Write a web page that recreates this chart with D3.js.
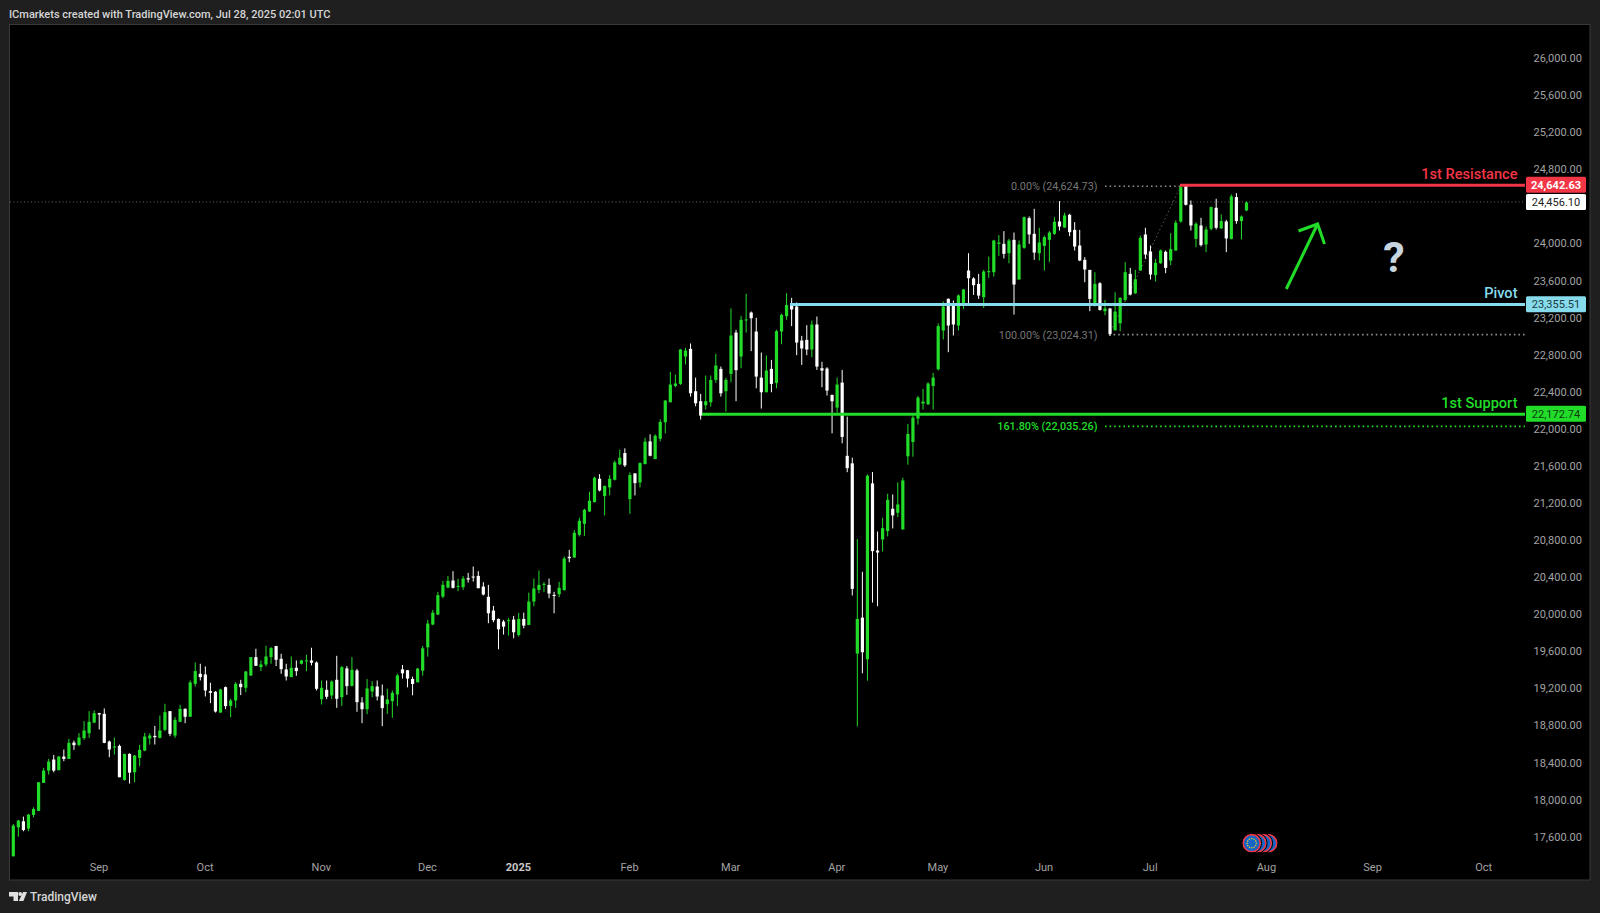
<!DOCTYPE html>
<html><head><meta charset="utf-8">
<script src="https://cdn.jsdelivr.net/npm/d3@7"></script>
<style>
html,body{margin:0;padding:0;background:#1f1f1f;overflow:hidden}
svg{display:block}
text{font-family:Roboto,"Noto Sans",sans-serif}
.axis text{fill:#a3a3a3;font-size:11px}
.axis path,.axis line{display:none}
</style></head><body>
<svg id="c" width="1600" height="913"></svg>
<script>
const opens=[17397,17710,17775,17696,17843,17886,18189,18322,18441,18326,
18473,18448,18624,18599,18671,18725,18840,18941,18934,18635,
18570,18588,18221,18502,18304,18459,18538,18668,18696,18675,
18761,18963,18700,18848,18988,18902,19258,19366,19359,19179,
19172,18948,19222,19020,19078,19258,19215,19348,19546,19438,
19467,19546,19665,19528,19413,19330,19431,19474,19499,19510,
19488,19092,19193,19132,19301,19114,19424,19236,19402,19056,
18984,19175,19229,19132,19038,19071,19143,19414,19404,19310,
19274,19400,19652,19897,20005,20199,20296,20372,20304,20300,
20397,20415,20422,20307,20196,20048,19958,19929,19933,19951,
19785,19958,19893,20145,20271,20325,20325,20217,20224,20268,
20628,20620,20865,20984,21117,21218,21470,21283,21376,21459,
21625,21747,21250,21528,21430,21628,21873,21682,21902,22079,
22295,22471,22493,22788,22871,22414,22306,22263,22295,22536,
22655,22414,22601,23047,22788,23181,23263,23058,22561,22403,
22655,22504,23058,23224,23350,23328,22961,22968,22864,23134,
22662,22659,22374,22237,22507,21717,21636,19584,19972,19522,
21420,20696,20815,20905,21146,21103,20923,21712,21867,22119,
22281,22273,22471,22651,23069,23411,23350,23123,23367,23716,
23630,23572,23428,23698,23698,24004,24004,23903,24047,23619,
23961,24281,24112,23903,23982,24047,24112,24245,24180,24317,
24155,23986,23831,23723,23338,23579,23277,23306,23072,23147,
23399,23680,23471,23716,24105,23921,23666,23795,23918,23824,
23932,24245,24627,24425,24058,24202,23997,24166,24393,24170,
24245,24058,24508,24249,24364];
const highs=[17746,17789,17825,17854,17926,18196,18351,18448,18491,18480,
18549,18664,18646,18725,18855,18963,18970,18945,18992,18646,
18678,18603,18502,18509,18491,18599,18729,18725,18804,18916,
19042,18963,18898,19031,18992,19294,19488,19474,19445,19269,
19179,19204,19229,19096,19276,19301,19395,19546,19636,19510,
19668,19654,19668,19582,19474,19553,19510,19517,19571,19647,
19499,19294,19294,19294,19560,19449,19449,19546,19420,19114,
19308,19287,19294,19251,19204,19186,19366,19461,19407,19335,
19429,19666,19947,20055,20250,20368,20422,20473,20390,20422,
20455,20523,20473,20354,20325,20098,19962,19947,19969,19990,
20023,20026,20242,20394,20480,20354,20394,20250,20358,20631,
20703,20916,21049,21146,21330,21492,21520,21398,21510,21664,
21783,21798,21538,21528,21646,21913,21949,21949,22111,22320,
22623,22594,22871,22882,22929,22561,22385,22583,22583,22817,
22680,22558,23307,23076,23227,23465,23274,23206,22831,22799,
22752,23076,23249,23472,23422,23371,23011,23127,23177,23220,
22731,22673,22378,22561,22644,22140,21697,20818,20466,21517,
21542,20901,21049,21308,21301,21430,21481,22061,22151,22363,
22439,22511,22612,23145,23382,23415,23393,23458,23518,23903,
23644,23680,23723,23867,24047,24098,24141,24058,24126,24040,
24299,24299,24382,24177,24094,24141,24292,24465,24339,24328,
24238,24155,23860,23723,23698,23590,23399,23313,23482,23428,
23806,23745,23723,24094,24177,23986,23842,23943,23932,24119,
24256,24623,24634,24472,24238,24285,24191,24407,24490,24321,
24263,24537,24551,24310,24461];
const lows=[17397,17609,17667,17667,17818,17886,18189,18279,18304,18326,
18423,18448,18545,18585,18653,18675,18833,18765,18617,18466,
18495,18250,18214,18182,18196,18369,18531,18603,18603,18668,
18747,18693,18675,18844,18833,18902,19229,19294,19121,19049,
18948,18945,18984,18898,18999,19136,19168,19344,19449,19395,
19445,19474,19449,19366,19294,19330,19344,19467,19395,19456,
19186,19035,19092,19092,18999,19020,19139,19229,18956,18833,
18930,19114,19078,18801,18934,18891,19017,19314,19220,19134,
19274,19346,19551,19890,19998,20181,20289,20286,20257,20271,
20350,20361,20289,20210,19911,19922,19630,19789,19778,19749,
19767,19857,19890,20095,20235,20246,20181,20019,20192,20264,
20570,20620,20847,20854,21110,21214,21333,21074,21290,21452,
21618,21596,21092,21290,21376,21625,21711,21682,21873,21960,
22295,22457,22482,22702,22356,22252,22108,22216,22248,22504,
22356,22194,22511,22306,22662,23047,22846,22446,22227,22403,
22403,22446,22921,23184,23116,22803,22698,22803,22781,22644,
22457,22367,21960,22183,21852,21541,20210,18799,19371,19292,
20134,20095,20685,20847,20934,21056,20923,21622,21708,22054,
22216,22266,22216,22637,22972,22835,23015,23069,23302,23338,
23453,23410,23313,23637,23651,23874,23846,23795,23241,23619,
23950,24004,23831,23824,23716,23806,24101,24148,24177,24087,
23932,23817,23590,23277,23327,23284,23234,23010,23068,23061,
23385,23446,23464,23716,23842,23619,23597,23788,23687,23774,
23932,24231,24418,24148,23968,23975,23914,24148,24159,24166,
23914,24051,24220,24051,24357];
const closes=[17728,17782,17681,17847,17908,18196,18322,18419,18322,18473,
18448,18621,18596,18678,18754,18848,18941,18927,18621,18549,
18581,18250,18502,18300,18484,18545,18689,18700,18682,18754,
18952,18718,18869,18988,18902,19272,19395,19330,19186,19161,
18959,19197,19017,19078,19258,19222,19391,19546,19452,19467,
19553,19643,19517,19416,19337,19431,19395,19510,19510,19485,
19204,19215,19118,19283,19096,19438,19233,19409,19060,18984,
19208,19233,19121,18995,19089,19161,19348,19371,19314,19256,
19422,19641,19908,20026,20214,20325,20368,20293,20314,20394,
20383,20404,20289,20221,20019,19944,19846,19875,19944,19814,
19958,19886,20145,20286,20325,20336,20232,20206,20293,20610,
20613,20887,21016,21135,21232,21481,21344,21391,21470,21646,
21697,21614,21510,21423,21639,21870,21718,21934,22082,22313,
22486,22497,22864,22853,22392,22284,22151,22306,22536,22691,
22392,22536,23015,22641,23184,23188,23202,22572,22403,22637,
22493,23062,23238,23343,23296,22939,22875,22864,23134,22680,
22637,22421,22306,22486,21921,21584,20282,19958,19598,21502,
20689,20674,20937,21243,21074,21193,21452,21953,22129,22345,
22302,22497,22561,23116,23328,23123,23134,23447,23511,23633,
23558,23446,23705,23709,24040,24018,23896,24040,23565,23997,
24292,24105,23910,24018,24076,24126,24242,24191,24310,24130,
23975,23824,23727,23410,23572,23291,23306,23032,23273,23421,
23698,23457,23622,24069,23889,23673,23799,23932,23745,23946,
24231,24616,24425,24202,24220,23990,24159,24400,24177,24249,
24062,24515,24249,24299,24450];

const priceTicks=[17600,18000,18400,18800,19200,19600,20000,20400,20800,21200,21600,22000,22400,22800,23200,23600,24000,24800,25200,25600,26000];
const monthLabels=["Sep","Oct","Nov","Dec","2025","Feb","Mar","Apr","May","Jun","Jul","Aug","Sep","Oct"];
const monthBars=[17,38,61,82,100,122,142,163,183,204,225,248,269,291];
const resistance=24642.63, pivot=23355.51, support=22172.74, lastPrice=24456.10;
const fibLevels=["0.00%","100.00%","161.80%"];
const fibPrices=[24624.73,23024.31,22035.26];

const GREEN="#22dc2a", RED="#f23645", CYAN="#86dcec";
const svg=d3.select("#c");
const x=d3.scaleLinear().domain([0,244]).range([13.3,1246.5]);
const y=d3.scaleLinear().domain([26000,17600]).range([58.8,837.5]);
const fmt=d3.format(",.2f");

svg.append("rect").attr("width",1600).attr("height",913).attr("fill","#1f1f1f");
svg.append("rect").attr("x",9.5).attr("y",24.5).attr("width",1580.5).attr("height",855.5)
  .attr("fill","#000").attr("stroke","#3a3a3a");

svg.append("text").attr("x",9).attr("y",17.5).attr("fill","#d6d6d6").attr("font-size",11).attr("font-weight",500)
  .text("ICmarkets created with TradingView.com, Jul 28, 2025 02:01 UTC");

// axes
const ay=d3.axisRight(y).tickValues(priceTicks).tickSize(0).tickPadding(0).tickFormat(fmt);
svg.append("g").attr("class","axis").attr("transform","translate(1533.5,-0.8)").call(ay).call(g=>g.select(".domain").remove());
const ax=d3.axisBottom(x).tickValues(monthBars).tickSize(0).tickPadding(0)
  .tickFormat((d,i)=>monthLabels[i]);
svg.append("g").attr("class","axis").attr("transform","translate(-0.8,863.5)").call(ax)
  .call(g=>g.select(".domain").remove())
  .selectAll("text").attr("font-weight",(d,i)=>monthLabels[i]==="2025"?700:400).style("fill",(d,i)=>monthLabels[i]==="2025"?"#c8c8c8":null);

// price-line and fib dotted guides
const dotted=(x1,x2,yy,c,w)=>svg.append("line").attr("x1",x1).attr("x2",x2).attr("y1",yy).attr("y2",yy)
  .attr("stroke",c).attr("stroke-width",w).attr("stroke-dasharray",w>1?"1.6 3":"1 2.5");
dotted(10,1525,y(lastPrice),"#6a6a6a",1);
const fibColors=["#8c8c8c","#8c8c8c",GREEN];
const fibStart=[1105,1109,1105], fibEnd=[1180,1525,1525];
fibLevels.forEach((l,i)=>{
  const yy=y(fibPrices[i]);
  dotted(fibStart[i],fibEnd[i],yy,fibColors[i],1.6);
  svg.append("text").attr("x",1097.5).attr("y",yy+4).attr("text-anchor","end").attr("font-size",10.8)
    .attr("fill",i==2?GREEN:"#767676").attr("font-weight",i==2?500:400).text(`${l} (${fmt(fibPrices[i])})`);
});
svg.append("line").attr("x1",1109).attr("x2",x(231)).attr("y1",y(fibPrices[1])).attr("y2",y(fibPrices[0]))
  .attr("stroke","#5a5a5a").attr("stroke-dasharray","1.5 2.5");

// candles
const idx=d3.range(opens.length);
const col=i=>closes[i]>=opens[i]?GREEN:"#ffffff";
const cg=svg.append("g");
cg.selectAll("line").data(idx).join("line")
  .attr("x1",x).attr("x2",x).attr("y1",i=>y(highs[i])).attr("y2",i=>y(lows[i]))
  .attr("stroke",col).attr("stroke-width",1);
cg.selectAll("rect").data(idx).join("rect")
  .attr("x",i=>x(i)-1.6).attr("width",3.2)
  .attr("y",i=>y(Math.max(opens[i],closes[i])))
  .attr("height",i=>Math.max(1,Math.abs(y(opens[i])-y(closes[i]))))
  .attr("fill",col);

// horizontal levels
const levels=[resistance,pivot,support], levelColors=[RED,CYAN,GREEN], levelStart=[1180,790,702];
const levelNames=["1st Resistance","Pivot","1st Support"];
levels.forEach((p,i)=>{
  svg.append("line").attr("x1",levelStart[i]).attr("x2",1525).attr("y1",y(p)+0.6).attr("y2",y(p)+0.6)
    .attr("stroke",levelColors[i]).attr("stroke-width",3);
  svg.append("text").attr("x",1517.5).attr("y",y(p)-6).attr("text-anchor","end")
    .attr("font-size",14.6).attr("font-weight",500).attr("fill",levelColors[i]).text(levelNames[i]);
});

// price tags
const tag=(p,fill,tc,w)=>{
  const yy=y(p);
  svg.append("rect").attr("x",1526).attr("y",yy-7.8).attr("width",60).attr("height",16).attr("rx",1.5).attr("fill",fill);
  svg.append("text").attr("x",1556).attr("y",yy+4.2).attr("text-anchor","middle").attr("font-size",11)
    .attr("font-weight",w).attr("fill",tc).text(fmt(p));
};
tag(resistance,RED,"#fff",700);
tag(lastPrice,"#fff","#222",400);
tag(pivot,CYAN,"#1c3a40",400);
tag(support,GREEN,"#0d3d10",400);

// arrow and question mark
svg.append("path").attr("d",d3.line()([[1286.3,289],[1317.6,224]])).attr("stroke",GREEN).attr("stroke-width",3).attr("fill","none");
svg.append("path").attr("d",d3.line()([[1298.5,231],[1317.6,224],[1324.5,244]])).attr("stroke",GREEN).attr("stroke-width",3).attr("fill","none");
svg.append("text").attr("x",1394).attr("y",272).attr("text-anchor","middle").attr("font-size",43).attr("font-weight",700)
  .attr("fill","#c8d4de").text("?");

// event icons
const eventOffsets=[16.5,11,5.5,0];
const eg=svg.append("g");
eventOffsets.forEach(d=>{
  eg.append("circle").attr("cx",1251.7+d).attr("cy",843.2).attr("r",8.6)
    .attr("fill","#1666c8").attr("stroke",RED).attr("stroke-width",1.6);
  eg.append("circle").attr("cx",1251.7+d).attr("cy",843.2).attr("r",10).attr("fill","none").attr("stroke","#000").attr("stroke-width",1);
});
d3.range(12).forEach(k=>{
  const a=k*Math.PI/6;
  eg.append("circle").attr("cx",1251.7+4.6*Math.cos(a)).attr("cy",843.2+4.6*Math.sin(a)).attr("r",.75).attr("fill","#f4d020");
});

// footer logo
svg.append("path").attr("fill","#e0e0e0")
  .attr("d","M9 892h9v9h-4.5v-4.5H9z M23 892h4l-3.6 9h-4.6z");
svg.append("circle").attr("cx",20.2).attr("cy",894).attr("r",1.9).attr("fill","#e0e0e0");
svg.append("text").attr("x",30).attr("y",901).attr("font-size",12).attr("font-weight",500).attr("fill","#d6d6d6").text("TradingView");
</script>
</body></html>
